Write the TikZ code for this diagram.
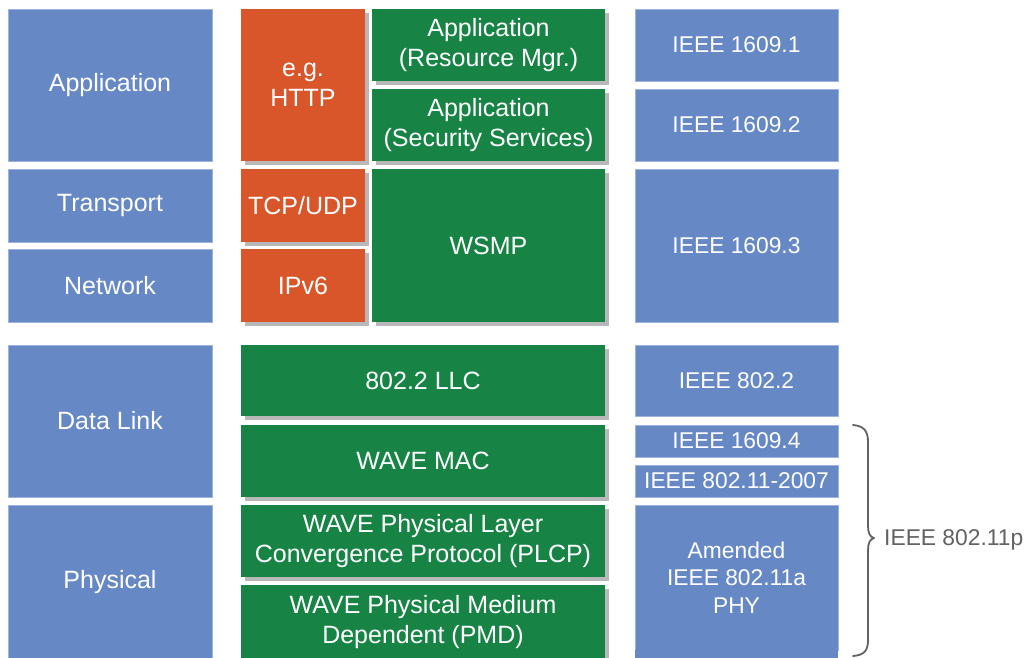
\documentclass[tikz,border=0pt]{standalone}
\usepackage{fontspec}
\setmainfont{Liberation Sans}
\usetikzlibrary{shadows}
\definecolor{lblue}{HTML}{6688C5}
\definecolor{lblueedge}{HTML}{9DB4DE}
\definecolor{worange}{HTML}{D8562A}
\definecolor{wgreen}{HTML}{178445}
\definecolor{bracegray}{HTML}{626262}
\begin{document}
\begin{tikzpicture}[x=1pt,y=-1pt,
  base/.style={anchor=north west,inner sep=0pt,outer sep=0pt,align=center,text=white},
  bluebox/.style={base,fill=lblue,draw=lblueedge,line width=0.8pt},
  leftbox/.style={bluebox,minimum width=204pt,font=\fontsize{25}{30}\selectfont},
  rightbox/.style={bluebox,minimum width=203pt,font=\fontsize{22.8}{27.5}\selectfont},
  shad/.style={drop shadow={shadow xshift=4pt,shadow yshift=-4pt,fill=black,opacity=0.28}},
  orangebox/.style={base,fill=worange,minimum width=124pt,shad,font=\fontsize{25}{30}\selectfont},
  greenbox/.style={base,fill=wgreen,shad,font=\fontsize{25}{30}\selectfont},
  narrowgreen/.style={greenbox,minimum width=233pt},
  widegreen/.style={greenbox,minimum width=364pt},
  bracestyle/.style={draw=bracegray,line width=1.8pt,line cap=round,line join=round},
  bracelabel/.style={text=bracegray,anchor=west,inner sep=0pt,font=\fontsize{22.8}{27}\selectfont}
]
\useasboundingbox (0,0) rectangle (1030,657);
\fill[white] (0,0) rectangle (1030,657);
% left column
\node[leftbox,minimum height=152pt] (lapp) at (8,9) {Application};
\node[leftbox,minimum height=73pt] (ltrans) at (8,169) {Transport};
\node[leftbox,minimum height=73pt] (lnet) at (8,249) {Network};
\node[leftbox,minimum height=152pt] (ldl) at (8,345) {Data Link};
\node[leftbox,minimum height=155pt] (lphy) at (8,505) {Physical};
% orange
\node[orangebox,minimum height=152pt] (http) at (241,9) {e.g.\\HTTP};
\node[orangebox,minimum height=73pt] (tcp) at (241,169) {TCP/UDP};
\node[orangebox,minimum height=73pt] (ipv6) at (241,249) {IPv6};
% green narrow
\node[narrowgreen,minimum height=72pt] (rm) at (372,9) {Application\\(Resource Mgr.)};
\node[narrowgreen,minimum height=72pt] (sec) at (372,89) {Application\\(Security Services)};
\node[narrowgreen,minimum height=153pt] (wsmp) at (372,169) {WSMP};
% green wide
\node[widegreen,minimum height=71pt] (llc) at (241,345) {802.2 LLC};
\node[widegreen,minimum height=72pt] (mac) at (241,425) {WAVE MAC};
\node[widegreen,minimum height=72pt] (plcp) at (241,505) {WAVE Physical Layer\\Convergence Protocol (PLCP)};
\node[widegreen,minimum height=75pt] (pmd) at (241,585) {WAVE Physical Medium\\Dependent (PMD)};
% right column
\node[rightbox,minimum height=72pt] (r1) at (635,9) {IEEE 1609.1};
\node[rightbox,minimum height=72pt] (r2) at (635,89) {IEEE 1609.2};
\node[rightbox,minimum height=153pt] (r3) at (635,169) {IEEE 1609.3};
\node[rightbox,minimum height=71pt] (r4) at (635,345) {IEEE 802.2};
\node[rightbox,minimum height=32pt] (r5) at (635,425) {IEEE 1609.4};
\node[rightbox,minimum height=32pt] (r6) at (635,465) {IEEE 802.11-2007};
\node[rightbox,minimum height=145pt] (r7) at (635,505) {Amended\\IEEE 802.11a\\PHY};
\fill[lblue] (r7.south west) ++(0.4,0) rectangle ++(202.2,12);
% brace
\coordinate (btop) at (853,425);
\coordinate (btip) at (874,538);
\coordinate (bbot) at (853,656);
\draw[bracestyle] (btop) .. controls (864,426) and (868,431) .. (868,442)
  -- (868,526) .. controls (868,533) and (870,537) .. (btip)
  .. controls (870,539) and (868,543) .. (868,550)
  -- (868,640) .. controls (868,651) and (864,655) .. (bbot);
\node[bracelabel] (p11) at (884,540) {IEEE 802.11p};
\end{tikzpicture}
\end{document}
